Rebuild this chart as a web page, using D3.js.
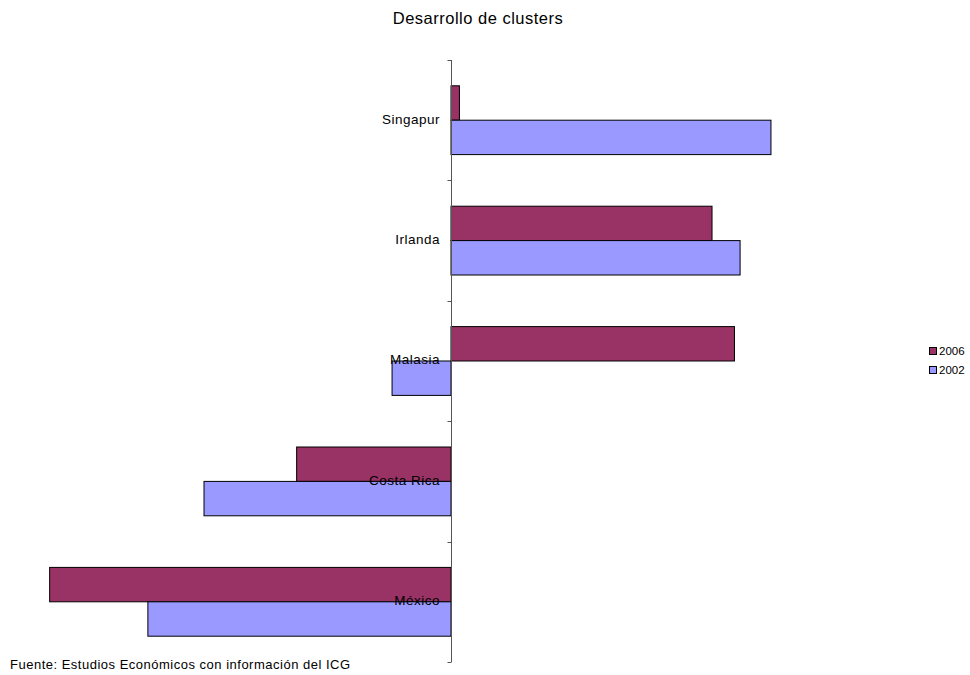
<!DOCTYPE html>
<html>
<head>
<meta charset="utf-8">
<script src="https://cdn.jsdelivr.net/npm/d3@7"></script>
<style>
  html, body { margin: 0; padding: 0; background: #fff; }
  svg { display: block; font-family: "Liberation Sans", Arial, sans-serif; }
</style>
</head>
<body>
<svg id="chart" width="970" height="675"></svg>
<script>
const categories = ["Singapur", "Irlanda", "Malasia", "Costa Rica", "México"];
const seriesNames = ["2006", "2002"];
const values2006 = [0.03, 0.93, 1.01, -0.55, -1.43];
const values2002 = [1.14, 1.03, -0.21, -0.88, -1.08];
const colors = ["#993366", "#9999FF"];
const title = "Desarrollo de clusters";
const source = "Fuente: Estudios Económicos con información del ICG";

const seriesValues = [values2006, values2002];
const svg = d3.select("#chart");

const x = d3.scaleLinear().domain([-1.5, 1.5]).range([30, 872]);
const y = d3.scaleBand().domain(categories).range([60, 662]).padding(0);
const ySub = d3.scaleBand().domain(seriesNames).range([0, y.bandwidth()])
  .paddingInner(0).paddingOuter(0.75);

// Title
svg.append("text").attr("x", 478).attr("y", 24)
  .attr("text-anchor", "middle").attr("font-size", 16.5).attr("letter-spacing", 0.5)
  .attr("fill", "#000")
  .text(title);

// Bars
const groups = svg.append("g").selectAll("g").data(categories).join("g")
  .attr("transform", c => `translate(0,${y(c)})`);
seriesNames.forEach((s, si) => {
  groups.append("rect")
    .attr("x", (c, i) => x(Math.min(0, seriesValues[si][i])))
    .attr("y", ySub(s))
    .attr("width", (c, i) => Math.abs(x(seriesValues[si][i]) - x(0)))
    .attr("height", ySub.bandwidth())
    .attr("fill", colors[si])
    .attr("stroke", "#000").attr("stroke-width", 1);
});

// Axis line and ticks at category boundaries
const x0 = Math.round(x(0)) + 0.5;
const axis = svg.append("g").attr("stroke", "#555").attr("stroke-width", 1);
axis.append("line").attr("x1", x0).attr("x2", x0)
  .attr("y1", y.range()[0]).attr("y2", y.range()[1]);
const boundaries = categories.map(c => y(c)).concat([y(categories[categories.length - 1]) + y.bandwidth()]);
axis.selectAll("line.tick").data(boundaries).join("line").attr("class", "tick")
  .attr("x1", x0 - 4).attr("x2", x0)
  .attr("y1", d => Math.round(d) + 0.5).attr("y2", d => Math.round(d) + 0.5);

// Category labels (drawn over bars)
svg.append("g").selectAll("text").data(categories).join("text")
  .attr("x", x(0) - 11)
  .attr("y", c => y(c) + y.bandwidth() / 2)
  .attr("dy", "0.25em")
  .attr("text-anchor", "end").attr("font-size", 13.5).attr("letter-spacing", 0.5)
  .attr("fill", "#000")
  .text(c => c);

// Legend
const legend = svg.append("g").attr("transform", "translate(929,347)");
seriesNames.forEach((s, i) => {
  const g = legend.append("g").attr("transform", `translate(0,${i * 19})`);
  g.append("rect").attr("x", 0.5).attr("y", 0.5).attr("width", 7).attr("height", 7)
    .attr("fill", colors[i]).attr("stroke", "#000").attr("stroke-width", 1);
  g.append("text").attr("x", 10).attr("y", 4).attr("dy", "0.35em")
    .attr("font-size", 11.5).attr("fill", "#000").text(s);
});

// Source
svg.append("text").attr("x", 10).attr("y", 669)
  .attr("font-size", 13).attr("letter-spacing", 0.5).attr("fill", "#000").text(source);
</script>
</body>
</html>
